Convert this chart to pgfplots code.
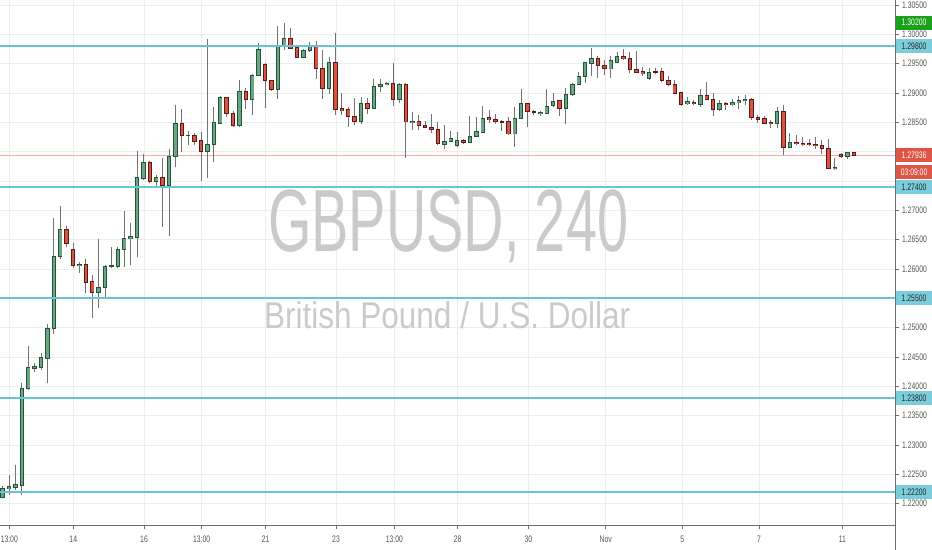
\documentclass[border=0pt]{standalone}
\usepackage{pgfplots}
\pgfplotsset{compat=1.18}
\usepackage{pgfplotstable}
\usepackage{graphicx}
\usepackage{fontspec}
\setmainfont{Liberation Sans}
\setsansfont{Liberation Sans}

\definecolor{upfill}{HTML}{6BA583}
\definecolor{upline}{HTML}{225437}
\definecolor{dnfill}{HTML}{D75442}
\definecolor{dnline}{HTML}{5B1A13}
\definecolor{wick}{HTML}{737375}
\definecolor{hline}{HTML}{67C6D6}
\definecolor{hbox}{HTML}{7CCDDB}
\definecolor{pxline}{HTML}{F0B0AA}
\definecolor{pxbox}{HTML}{DE5546}
\definecolor{hibox}{HTML}{1AA01A}
\definecolor{lblgray}{HTML}{555555}
\definecolor{axgray}{HTML}{6E6E6E}
\definecolor{wmark}{HTML}{CACACA}

\newcommand{\nx}[1]{\scalebox{0.72}[1]{#1}}

% GBPUSD 4h candles: i open high low close
\pgfplotstableread{
i o h l c
0 1.22107 1.22300 1.22095 1.22261
1 1.22249 1.22487 1.22146 1.22288
2 1.22278 1.22658 1.22232 1.22322
3 1.22305 1.24051 1.22146 1.23965
4 1.23953 1.24692 1.23936 1.24317
5 1.24306 1.24397 1.24243 1.24340
6 1.24323 1.24562 1.24277 1.24487
7 1.24477 1.25062 1.24051 1.24988
8 1.24976 1.26863 1.24891 1.26221
9 1.26209 1.27078 1.26170 1.26676
12 1.26055 1.26124 1.25926 1.26079
15 1.25602 1.26505 1.25329 1.25687
16 1.25680 1.26067 1.25500 1.26050
17 1.26038 1.26379 1.26011 1.26055
18 1.26038 1.26379 1.26016 1.26335
19 1.26323 1.26993 1.26038 1.26516
20 1.26510 1.26788 1.26067 1.26550
21 1.26539 1.28016 1.26209 1.27562
22 1.27545 1.27954 1.27516 1.27818
24 1.27487 1.27602 1.27402 1.27555
26 1.27414 1.28045 1.26567 1.27913
27 1.27913 1.28795 1.27743 1.28483
29 1.28266 1.28352 1.28113 1.28283
32 1.27999 1.29915 1.27555 1.28125
33 1.28113 1.28766 1.27828 1.28493
34 1.28483 1.28948 1.28471 1.28919
37 1.28437 1.29221 1.28415 1.29022
39 1.28880 1.29323 1.28624 1.29306
40 1.29301 1.29847 1.29289 1.29744
43 1.29050 1.30150 1.28892 1.29789
44 1.29789 1.30200 1.29732 1.29932
47 1.29601 1.29744 1.29591 1.29732
48 1.29720 1.29874 1.29703 1.29818
51 1.29079 1.29618 1.28977 1.29516
56 1.28510 1.28936 1.28471 1.28824
58 1.28739 1.29233 1.28721 1.29119
59 1.29107 1.29233 1.29022 1.29153
60 1.29141 1.29192 1.29136 1.29165
62 1.28880 1.29170 1.28824 1.29153
64 1.28493 1.28681 1.28369 1.28522
69 1.28125 1.28454 1.28045 1.28181
70 1.28169 1.28357 1.28160 1.28227
71 1.28096 1.28340 1.28084 1.28198
73 1.28159 1.28607 1.28152 1.28254
74 1.28254 1.28595 1.28244 1.28340
75 1.28329 1.28778 1.28312 1.28568
80 1.28300 1.28756 1.28084 1.28568
81 1.28568 1.29062 1.28556 1.28824
84 1.28653 1.28693 1.28607 1.28675
85 1.28653 1.29062 1.28647 1.28778
86 1.28778 1.28994 1.28756 1.28863
88 1.28739 1.29079 1.28471 1.28977
89 1.28965 1.29165 1.28953 1.29153
90 1.29148 1.29362 1.29136 1.29289
91 1.29277 1.29533 1.29175 1.29516
92 1.29506 1.29761 1.29289 1.29584
95 1.29408 1.29630 1.29260 1.29550
96 1.29523 1.29703 1.29511 1.29618
101 1.29250 1.29420 1.29221 1.29345
107 1.28812 1.28926 1.28795 1.28851
109 1.28807 1.29062 1.28766 1.28965
112 1.28710 1.28880 1.28698 1.28824
114 1.28795 1.28892 1.28778 1.28836
115 1.28829 1.28948 1.28727 1.28868
116 1.28863 1.28965 1.28795 1.28897
121 1.28471 1.28766 1.28398 1.28681
123 1.28067 1.28323 1.28057 1.28152
130 1.27704 1.27886 1.27692 1.27733
132 1.27913 1.27999 1.27869 1.27982
}\candlesup

\pgfplotstableread{
i o h l c
10 1.26676 1.26737 1.26379 1.26425
11 1.26335 1.26447 1.26011 1.26055
13 1.26072 1.26164 1.25585 1.25772
14 1.25783 1.25897 1.25169 1.25602
23 1.27818 1.27840 1.27470 1.27487
25 1.27555 1.27886 1.26720 1.27414
28 1.28483 1.28721 1.27988 1.28271
30 1.28283 1.28312 1.28113 1.28169
31 1.28186 1.28340 1.27499 1.27999
35 1.28919 1.28936 1.28595 1.28641
36 1.28653 1.28693 1.28425 1.28437
38 1.29022 1.29079 1.28721 1.28880
41 1.29494 1.29516 1.28749 1.29209
42 1.29209 1.29221 1.29039 1.29050
45 1.29932 1.30102 1.29744 1.29761
46 1.29772 1.29789 1.29591 1.29601
49 1.29818 1.29886 1.29233 1.29408
50 1.29420 1.29732 1.28897 1.29079
52 1.29516 1.30017 1.28624 1.28721
53 1.28739 1.28994 1.28624 1.28698
54 1.28721 1.28766 1.28425 1.28595
55 1.28607 1.28919 1.28454 1.28510
57 1.28824 1.28909 1.28641 1.28739
61 1.29165 1.29516 1.28778 1.28880
63 1.29148 1.29165 1.27896 1.28505
65 1.28510 1.28624 1.28369 1.28442
66 1.28454 1.28522 1.28398 1.28408
67 1.28420 1.28636 1.28323 1.28374
68 1.28386 1.28510 1.28113 1.28130
72 1.28198 1.28210 1.28130 1.28159
76 1.28578 1.28710 1.28493 1.28551
77 1.28556 1.28641 1.28471 1.28510
78 1.28510 1.28539 1.28352 1.28500
79 1.28510 1.28595 1.28283 1.28300
82 1.28824 1.28834 1.28425 1.28681
83 1.28681 1.28710 1.28624 1.28663
87 1.28868 1.28880 1.28607 1.28739
93 1.29584 1.29630 1.29260 1.29465
94 1.29477 1.29562 1.29306 1.29408
97 1.29618 1.29744 1.29562 1.29579
98 1.29591 1.29703 1.29345 1.29403
99 1.29408 1.29715 1.29335 1.29345
100 1.29362 1.29448 1.29289 1.29335
102 1.29362 1.29420 1.29323 1.29345
103 1.29362 1.29420 1.29192 1.29209
104 1.29209 1.29289 1.29119 1.29148
105 1.29153 1.29221 1.28978 1.28994
106 1.29004 1.29022 1.28778 1.28807
108 1.28846 1.28880 1.28795 1.28812
110 1.28965 1.29192 1.28880 1.28892
111 1.28897 1.29004 1.28607 1.28710
113 1.28824 1.28851 1.28710 1.28795
117 1.28897 1.28909 1.28539 1.28578
118 1.28585 1.28624 1.28483 1.28551
119 1.28561 1.28607 1.28471 1.28483
120 1.28500 1.28539 1.28398 1.28471
122 1.28681 1.28795 1.27942 1.28067
124 1.28152 1.28283 1.28113 1.28130
125 1.28147 1.28244 1.28101 1.28118
126 1.28142 1.28210 1.28096 1.28113
127 1.28130 1.28244 1.28045 1.28096
128 1.28101 1.28198 1.27959 1.28045
129 1.28057 1.28210 1.27699 1.27704
131 1.27959 1.27982 1.27896 1.27913
133 1.27982 1.27999 1.27930 1.27936
}\candlesdown

\pgfplotsset{
  candle/.style n args={2}{draw=none, mark=none, forget plot,
    error bars/.cd, y dir=both, y explicit, error mark=none,
    error bar style={line width=#1, draw=#2, solid}},
  level/.style={hline, line width=2bp, forget plot},
}

\begin{document}
\begin{tikzpicture}
\useasboundingbox (0,0) rectangle (932bp,550bp);
\begin{axis}[
  at={(0bp,25bp)}, anchor=south west,
  scale only axis, width=895.7bp, height=525bp,
  xmin=-0.42, xmax=139.53, ymin=1.21635, ymax=1.30585,
  clip mode=individual,
  axis x line*=bottom, axis y line*=right,
  xtick pos=left, ytick pos=right, yticklabel pos=right,
  axis line style={draw=axgray, line width=1bp},
  tick align=outside, major tick length=3.5bp,
  tick style={draw=axgray, line width=0.8bp},
  grid=major, major grid style={draw=black!7, line width=0.8bp},
  xtick={1.03,11.03,22.08,31.09,41.09,52.08,61.19,71.09,82.13,94.22,106.19,118.17,131.19},
  xticklabels={\nx{13:00},\nx{14},\nx{16},\nx{13:00},\nx{21},\nx{23},\nx{13:00},\nx{28},\nx{30},\nx{Nov},\nx{5},\nx{7},\nx{11}},
  ytick={1.22,1.225,1.23,1.235,1.24,1.245,1.25,1.255,1.26,1.265,1.27,1.275,1.28,1.285,1.29,1.295,1.30,1.305},
  yticklabels={\nx{1.22000},\nx{1.22500},\nx{1.23000},\nx{1.23500},\nx{1.24000},\nx{1.24500},\nx{1.25000},{},\nx{1.26000},\nx{1.26500},\nx{1.27000},{},{},\nx{1.28500},\nx{1.29000},\nx{1.29500},\nx{1.30000},\nx{1.30500}},
  ticklabel style={font=\fontsize{9.5}{10}\selectfont, text=lblgray, inner sep=0pt},
  yticklabel style={anchor=west, xshift=2.8bp},
  xticklabel style={anchor=north, yshift=-7.5bp},
]
\node[anchor=base west, inner sep=0pt, text=wmark] at (rel axis cs:0.2992,0.5206)
  {\resizebox{360bp}{61.7bp}{GBPUSD, 240}};
\node[anchor=base west, inner sep=0pt, text=wmark] at (rel axis cs:0.2947,0.3747)
  {\resizebox{366bp}{27bp}{British Pound / U.S. Dollar}};

\addplot[pxline, line width=1.3bp, forget plot] coordinates {(-0.42,1.27936) (139.53,1.27936)};

% wicks
\addplot[candle={1bp}{wick}] table[x=i, y expr={(\thisrow{h}+\thisrow{l})/2}, y error expr={(\thisrow{h}-\thisrow{l})/2}] {\candlesup};
\addplot[candle={1bp}{wick}] table[x=i, y expr={(\thisrow{h}+\thisrow{l})/2}, y error expr={(\thisrow{h}-\thisrow{l})/2}] {\candlesdown};
% body borders
\addplot[candle={4.4bp}{upline}] table[x=i, y expr={(\thisrow{o}+\thisrow{c})/2}, y error expr={abs(\thisrow{c}-\thisrow{o})/2+0.00006}] {\candlesup};
\addplot[candle={4.4bp}{dnline}] table[x=i, y expr={(\thisrow{o}+\thisrow{c})/2}, y error expr={abs(\thisrow{c}-\thisrow{o})/2+0.00006}] {\candlesdown};
% body fills
\addplot[candle={2.6bp}{upfill}] table[x=i, y expr={(\thisrow{o}+\thisrow{c})/2}, y error expr={max(abs(\thisrow{c}-\thisrow{o})/2-0.0001,0)}] {\candlesup};
\addplot[candle={2.6bp}{dnfill}] table[x=i, y expr={(\thisrow{o}+\thisrow{c})/2}, y error expr={max(abs(\thisrow{c}-\thisrow{o})/2-0.0001,0)}] {\candlesdown};

% horizontal levels
\addplot[level] coordinates {(-0.42,1.298) (139.53,1.298)};
\addplot[level] coordinates {(-0.42,1.274) (139.53,1.274)};
\addplot[level] coordinates {(-0.42,1.255) (139.53,1.255)};
\addplot[level] coordinates {(-0.42,1.238) (139.53,1.238)};
\addplot[level] coordinates {(-0.42,1.222) (139.53,1.222)};

\coordinate (b302) at (axis cs:139.53,1.302);
\coordinate (b298) at (axis cs:139.53,1.298);
\coordinate (bpx) at (axis cs:139.53,1.27936);
\coordinate (b274) at (axis cs:139.53,1.274);
\coordinate (b255) at (axis cs:139.53,1.255);
\coordinate (b238) at (axis cs:139.53,1.238);
\coordinate (b222) at (axis cs:139.53,1.222);
\end{axis}

\draw[axgray, line width=1bp] (895.7bp,0) -- (895.7bp,550bp);

\tikzset{lbl/.style={anchor=west, inner sep=0pt, minimum width=36.3bp, minimum height=14bp,
  font=\fontsize{9.5}{10}\selectfont}}
\node[lbl, fill=hibox, text=white] at (b302) {\nx{1.30200}};
\node[lbl, fill=hbox, text=black!85] at (b298) {\nx{1.29800}};
\node[lbl, fill=pxbox, text=white] (px) at (bpx) {\nx{1.27936}};
\node[lbl, fill=pxbox, text=white, anchor=north west] at ([yshift=-2bp]px.south west) {\nx{03:09:00}};
\node[lbl, fill=hbox, text=black!85] at (b274) {\nx{1.27400}};
\node[lbl, fill=hbox, text=black!85] at (b255) {\nx{1.25500}};
\node[lbl, fill=hbox, text=black!85] at (b238) {\nx{1.23800}};
\node[lbl, fill=hbox, text=black!85] at (b222) {\nx{1.22200}};
\end{tikzpicture}
\end{document}
